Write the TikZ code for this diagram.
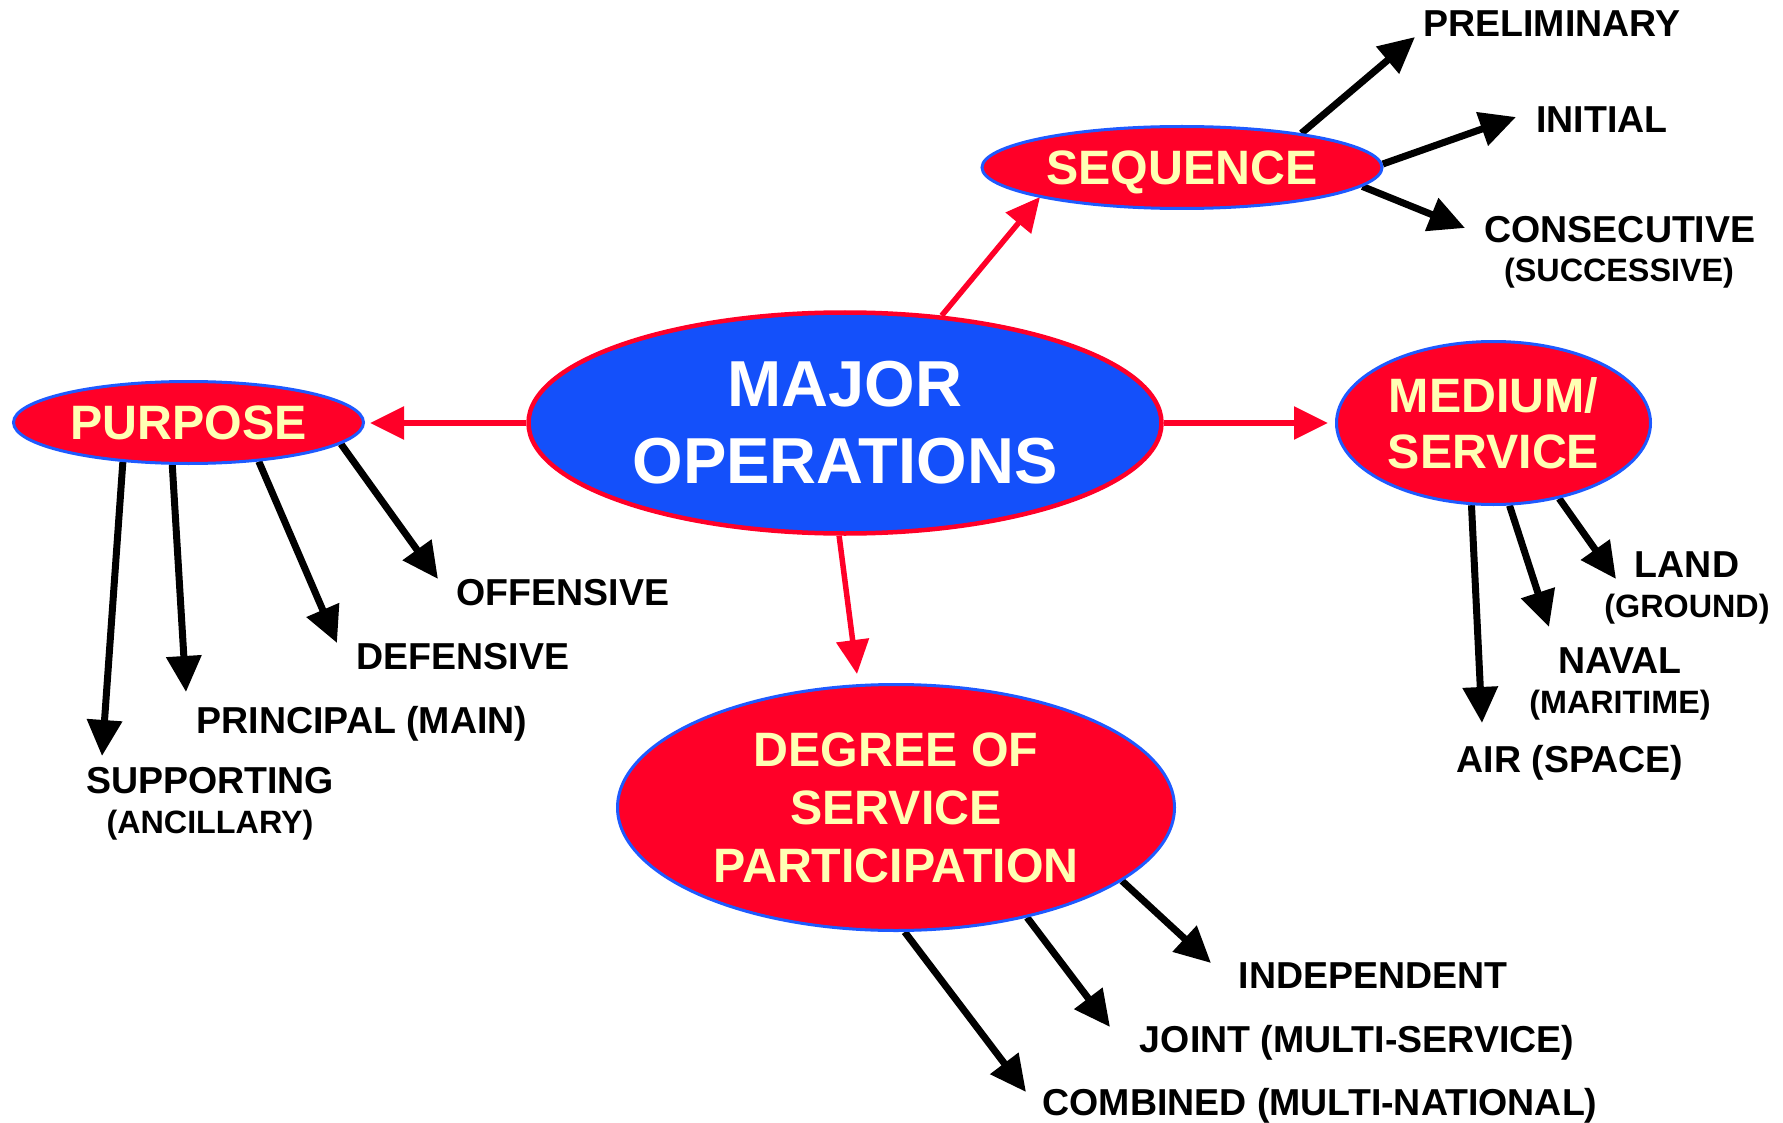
\documentclass[tikz,border=0pt]{standalone}
\usepackage{fontspec}
\setmainfont{Liberation Sans}
\usetikzlibrary{arrows.meta,shapes.geometric}
\pgfdeclarelayer{bg}
\pgfdeclarelayer{conn}
\pgfsetlayers{bg,conn,main}
\definecolor{mred}{RGB}{255,0,40}
\definecolor{mblue}{RGB}{20,80,250}
\definecolor{eblue}{RGB}{30,90,255}
\definecolor{myellow}{RGB}{255,255,180}
\tikzset{
  bubble/.style={ellipse, fill=mred, draw=eblue, line width=3pt, inner sep=0pt,
    text=myellow, align=center, font=\fontsize{48.3}{57}\selectfont\bfseries},
  majorbubble/.style={ellipse, fill=mblue, draw=mred, line width=4.5pt, inner sep=0pt,
    text=white, align=center, font=\fontsize{65}{77}\selectfont\bfseries},
  lbl/.style={anchor=base, inner sep=0pt, font=\fontsize{37.5}{40}\selectfont\bfseries},
  sublbl/.style={anchor=base, inner sep=0pt, font=\fontsize{32.3}{36}\selectfont\bfseries},
  blk/.style={draw=black, line width=7pt, -{Triangle[length=36pt,width=34pt]}},
  redarr/.style={draw=mred, line width=5.5pt, -{Triangle[length=34pt,width=32pt]}}
}
\begin{document}
\begin{tikzpicture}[x=1pt,y=-1pt]
\useasboundingbox (0,0) rectangle (1783,1123);
\begin{pgfonlayer}{bg}
\fill[white] (0,0) rectangle (1783,1123);
\end{pgfonlayer}

% ellipses
\node[majorbubble, minimum width=633pt, minimum height=221pt] (major) at (845,423) {MAJOR\\OPERATIONS};
\node[bubble, minimum width=350pt, minimum height=82pt] (purpose) at (188.5,422.5) {PURPOSE};
\node[bubble, minimum width=400pt, minimum height=82pt, text depth=0pt] (sequence) at (1182,167.5) {SEQUENCE};
\node[bubble, minimum width=314pt, minimum height=163pt, font=\fontsize{48.3}{56}\selectfont\bfseries] (medium) at (1493.5,423) {MEDIUM/\\SERVICE};
\node[bubble, minimum width=557pt, minimum height=246pt, font=\fontsize{48.3}{58}\selectfont\bfseries] (degree) at (896,807.5) {DEGREE OF\\SERVICE\\PARTICIPATION};

% labels
\node[lbl] (pre) at (1552,37) {PRELIMINARY};
\node[lbl] (ini) at (1602,133) {INITIAL};
\node[lbl] (con) at (1620,243) {CONSECUTIVE};
\node[sublbl] (con2) at (1619,282) {(SUCCESSIVE)};
\node[lbl] (off) at (563,605) {OFFENSIVE};
\node[lbl] (def) at (463,669) {DEFENSIVE};
\node[lbl] (pri) at (362,733) {PRINCIPAL (MAIN)};
\node[lbl] (sup) at (210,793) {SUPPORTING};
\node[sublbl] (sup2) at (210,833) {(ANCILLARY)};
\node[lbl] (land) at (1687,577) {LAND};
\node[sublbl] (land2) at (1687,617) {(GROUND)};
\node[lbl] (nav) at (1620,673) {NAVAL};
\node[sublbl] (nav2) at (1620,713) {(MARITIME)};
\node[lbl] (air) at (1570,772) {AIR (SPACE)};
\node[lbl] (ind) at (1373,988) {INDEPENDENT};
\node[lbl] (joi) at (1357,1052) {JOINT (MULTI-SERVICE)};
\node[lbl] (com) at (1320,1115) {COMBINED (MULTI-NATIONAL)};

% arrow tips
\coordinate (tPur) at (370,423);
\coordinate (tMed) at (1328,423);
\coordinate (tSeq) at (1040,197);
\coordinate (tDeg) at (857,674);
\coordinate (tOff) at (438,579);
\coordinate (tDef) at (337,643);
\coordinate (tPri) at (186,692);
\coordinate (tSup) at (102,756);
\coordinate (tPre) at (1415,37);
\coordinate (tIni) at (1516,117);
\coordinate (tCon) at (1465,228);
\coordinate (tLand) at (1616,579);
\coordinate (tNav) at (1549,627);
\coordinate (tAir) at (1482,723);
\coordinate (tInd) at (1211,963);
\coordinate (tJoi) at (1110,1027);
\coordinate (tCom) at (1026,1092);

\begin{pgfonlayer}{conn}
\draw[redarr] (major.west) -- (tPur);
\draw[redarr] (major.east) -- (tMed);
\draw[redarr] (major.48.9) -- (tSeq);
\draw[redarr] (major.-93.5) -- (tDeg);

\draw[blk] (purpose.-8.9) -- (tOff);
\draw[blk] (purpose.-29.7) -- (tDef);
\draw[blk] (purpose.-111.2) -- (tPri);
\draw[blk] (purpose.-149.2) -- (tSup);

\draw[blk] (sequence.16.7) -- (tPre);
\draw[blk] (sequence.1.3) -- (tIni);
\draw[blk] (sequence.-6.3) -- (tCon);

\draw[blk] (medium.-49.1) -- (tLand);
\draw[blk] (medium.-79) -- (tNav);
\draw[blk] (medium.-105.6) -- (tAir);

\draw[blk] (degree.-18.6) -- (tInd);
\draw[blk] (degree.-40.8) -- (tJoi);
\draw[blk] (degree.-86.8) -- (tCom);
\end{pgfonlayer}
\end{tikzpicture}
\end{document}
